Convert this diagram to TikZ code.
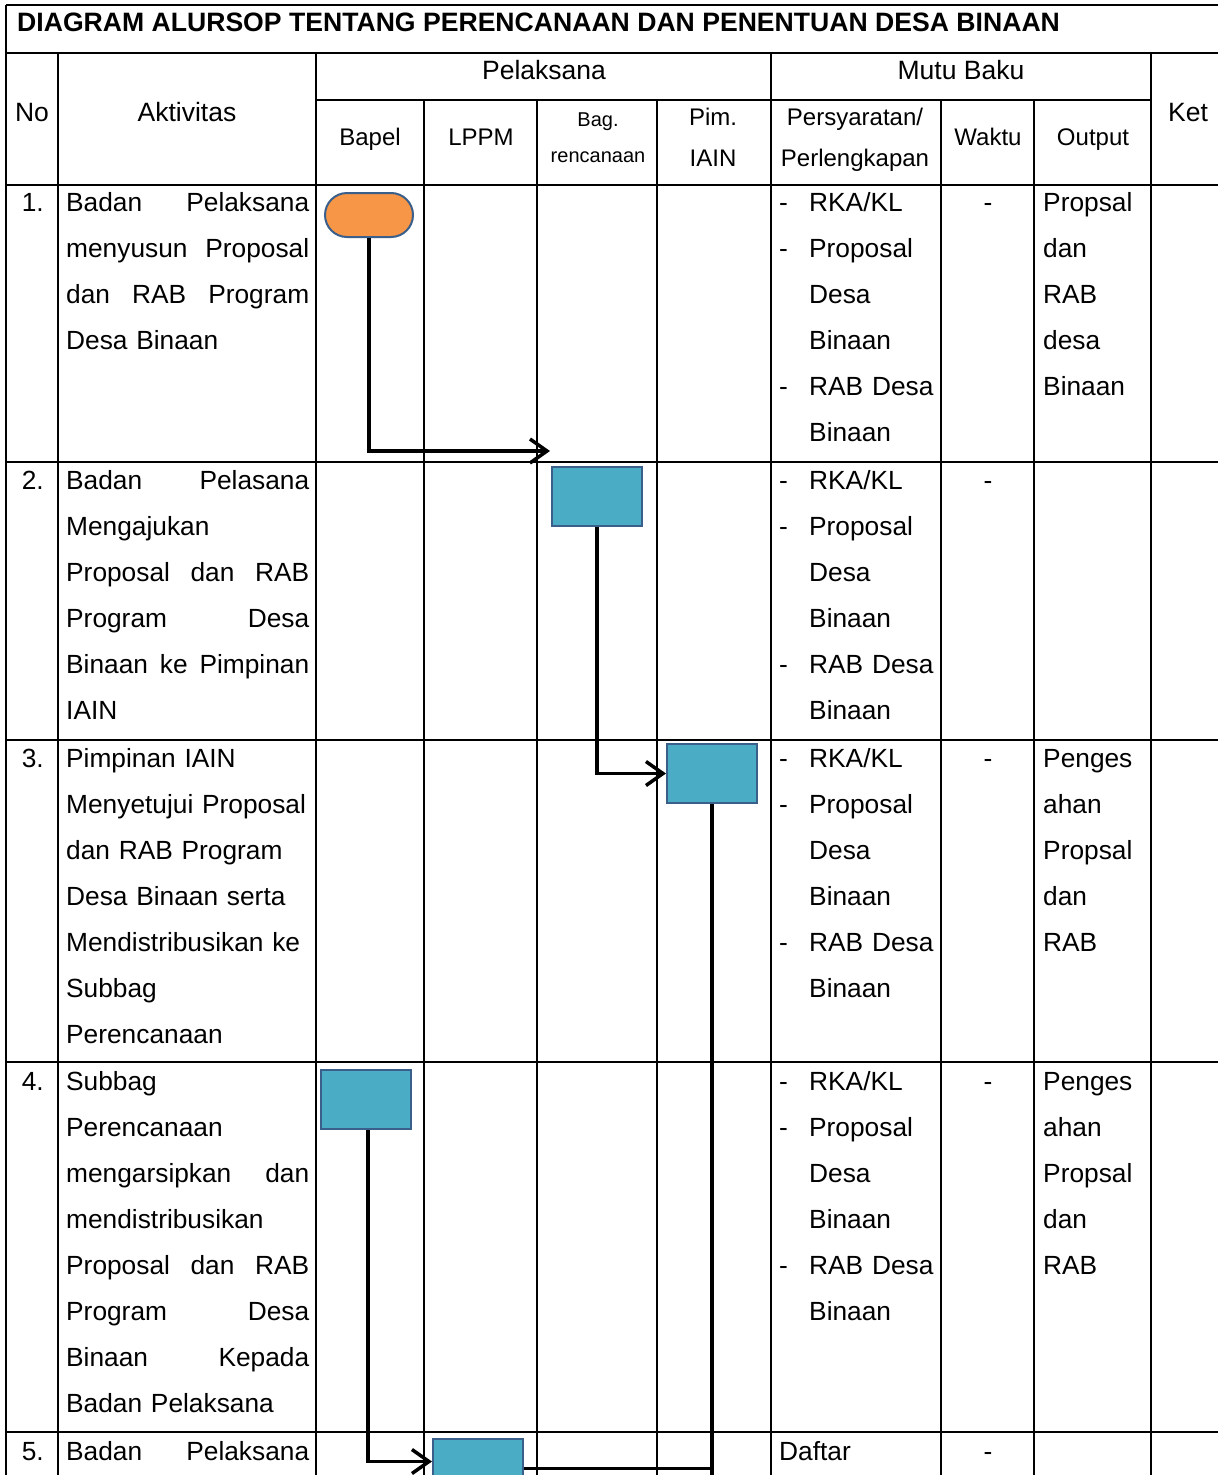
\documentclass[tikz,border=0pt]{standalone}
\usepackage{fontspec}
\setmainfont{Liberation Sans}
\usetikzlibrary{arrows.meta}
\definecolor{orangefill}{HTML}{F79646}
\definecolor{bluefill}{HTML}{4BACC6}
\definecolor{blueborder}{HTML}{3A5F8B}
\newcommand{\Jline}[1]{\makebox[243pt][l]{#1}}
\newcommand{\Dsh}{\makebox[30pt][l]{-}}
\newcommand{\Ind}{\hspace*{30pt}}
\begin{document}
\begin{tikzpicture}[x=1pt,y=-1pt,
  gridline/.style={line width=1.5pt},
  body/.style={font=\fontsize{26.3}{46}\selectfont, inner sep=0pt, anchor=base west, align=left},
  act/.style={body, text width=243pt},
  pers/.style={body, text width=160pt},
  outp/.style={body, text width=105pt},
  num/.style={font=\fontsize{26.3}{30}\selectfont, inner sep=0pt, anchor=base east},
  dashc/.style={font=\fontsize{26.3}{30}\selectfont, inner sep=0pt, anchor=base},
  hdrl/.style={font=\fontsize{26.5}{30}\selectfont, inner sep=0pt, anchor=base},
  hdr/.style={font=\fontsize{24}{28}\selectfont, inner sep=0pt, anchor=base},
  hdrs/.style={font=\fontsize{20}{24}\selectfont, inner sep=0pt, anchor=base},
  startnode/.style={draw=blueborder, line width=2pt, fill=orangefill, minimum width=88pt, minimum height=44pt, rounded corners=22pt, inner sep=0pt},
  procbox/.style={draw=blueborder, line width=2pt, fill=bluefill, minimum width=90pt, minimum height=59pt, inner sep=0pt},
  flow/.style={line width=3.5pt, -{Straight Barb[length=17pt,width=24pt,line width=3.5pt]}},
  conn/.style={line width=3.5pt}
]
\useasboundingbox (0,0) rectangle (1218,1475);
\clip (0,0) rectangle (1218,1475);
\fill[white] (0,0) rectangle (1218,1475);

% ---------- grid ----------
\foreach \yy in {5,53,185,462,740,1062,1432}
  \draw[gridline] (6,\yy) -- (1230,\yy);
\draw[gridline] (316,100) -- (1151,100);
\draw[gridline] (6,5) -- (6,1480);
\foreach \xx in {58,316,771,1151}
  \draw[gridline] (\xx,53) -- (\xx,1480);
\foreach \xx in {424,537,657,941}
  \draw[gridline] (\xx,100) -- (\xx,1480);
\draw[line width=2.2pt] (1034,100) -- (1034,1480);

% ---------- header ----------
\node[font=\bfseries\fontsize{26.6}{30}\selectfont, anchor=base west, inner sep=0pt] (title) at (17,31) {DIAGRAM ALURSOP TENTANG PERENCANAAN DAN PENENTUAN DESA BINAAN};
\node[hdrl] (hpel) at (544,79) {Pelaksana};
\node[hdrl] (hmutu) at (961,79) {Mutu Baku};
\node[hdrl] (hno) at (32,121) {No};
\node[hdrl] (hakt) at (187,121) {Aktivitas};
\node[hdrl] (hket) at (1188,121) {Ket};
\node[hdr] (hbapel) at (370,145) {Bapel};
\node[hdr] (hlppm) at (481,145) {LPPM};
\node[hdrs] (hbag) at (598,126) {Bag.};
\node[hdrs] (hren) at (598,162) {rencanaan};
\node[hdr] (hpim) at (713,125) {Pim.};
\node[hdr] (hiain) at (713,166) {IAIN};
\node[hdr] (hpers) at (855,125) {Persyaratan/};
\node[hdr] (hperl) at (855,166) {Perlengkapan};
\node[hdr] (hwaktu) at (988,145) {Waktu};
\node[hdr] (houtput) at (1093,145) {Output};

% ---------- numbers ----------
\node[num] (n1) at (44,211) {1.};
\node[num] (n2) at (44,489) {2.};
\node[num] (n3) at (44,767) {3.};
\node[num] (n4) at (44,1090) {4.};
\node[num] (n5) at (44,1460) {5.};

% ---------- aktivitas ----------
\node[act] (a1) at (66,211) {\Jline{Badan\hfill Pelaksana}\\\Jline{menyusun\hfill Proposal}\\\Jline{dan\hfill RAB\hfill Program}\\Desa Binaan};
\node[act] (a2) at (66,489) {\Jline{Badan\hfill Pelasana}\\Mengajukan\\\Jline{Proposal\hfill dan\hfill RAB}\\\Jline{Program\hfill Desa}\\\Jline{Binaan\hfill ke\hfill Pimpinan}\\IAIN};
\node[act] (a3) at (66,767) {Pimpinan IAIN\\Menyetujui Proposal\\dan RAB Program\\Desa Binaan serta\\Mendistribusikan ke\\Subbag\\Perencanaan};
\node[act] (a4) at (66,1090) {Subbag\\Perencanaan\\\Jline{mengarsipkan\hfill dan}\\mendistribusikan\\\Jline{Proposal\hfill dan\hfill RAB}\\\Jline{Program\hfill Desa}\\\Jline{Binaan\hfill Kepada}\\Badan Pelaksana};
\node[act] (a5) at (66,1460) {\Jline{Badan\hfill Pelaksana}};

% ---------- persyaratan ----------
\node[pers] (p1) at (779,211) {\Dsh RKA/KL\\\Dsh Proposal\\\Ind Desa\\\Ind Binaan\\\Dsh RAB Desa\\\Ind Binaan};
\node[pers] (p2) at (779,489) {\Dsh RKA/KL\\\Dsh Proposal\\\Ind Desa\\\Ind Binaan\\\Dsh RAB Desa\\\Ind Binaan};
\node[pers] (p3) at (779,767) {\Dsh RKA/KL\\\Dsh Proposal\\\Ind Desa\\\Ind Binaan\\\Dsh RAB Desa\\\Ind Binaan};
\node[pers] (p4) at (779,1090) {\Dsh RKA/KL\\\Dsh Proposal\\\Ind Desa\\\Ind Binaan\\\Dsh RAB Desa\\\Ind Binaan};
\node[pers] (p5) at (779,1460) {Daftar};

% ---------- waktu ----------
\node[dashc] (w1) at (988,211) {-};
\node[dashc] (w2) at (988,489) {-};
\node[dashc] (w3) at (988,767) {-};
\node[dashc] (w4) at (988,1090) {-};
\node[dashc] (w5) at (988,1460) {-};

% ---------- output ----------
\node[outp] (o1) at (1043,211) {Propsal\\dan\\RAB\\desa\\Binaan};
\node[outp] (o3) at (1043,767) {Penges\\ahan\\Propsal\\dan\\RAB};
\node[outp] (o4) at (1043,1090) {Penges\\ahan\\Propsal\\dan\\RAB};

% ---------- flow shapes ----------
\node[startnode] (b1) at (369,215) {};
\node[procbox] (b2) at (597,496.5) {};
\node[procbox] (b3) at (712,773.5) {};
\node[procbox] (b4) at (366,1099.5) {};
\node[procbox] (b5) at (478,1468.5) {};

% ---------- connectors ----------
\coordinate (t2) at (550,451);
\coordinate (bot) at (712,1500);
\draw[flow] (b1.south) |- (t2);
\draw[flow] (b2.south) |- (b3.west);
\draw[flow] ([xshift=2pt]b4.south) |- ([yshift=7pt]b5.west);
\draw[conn] (b3.south) -- (bot);
\draw[conn] (b5.east) -| (bot);
\end{tikzpicture}
\end{document}
